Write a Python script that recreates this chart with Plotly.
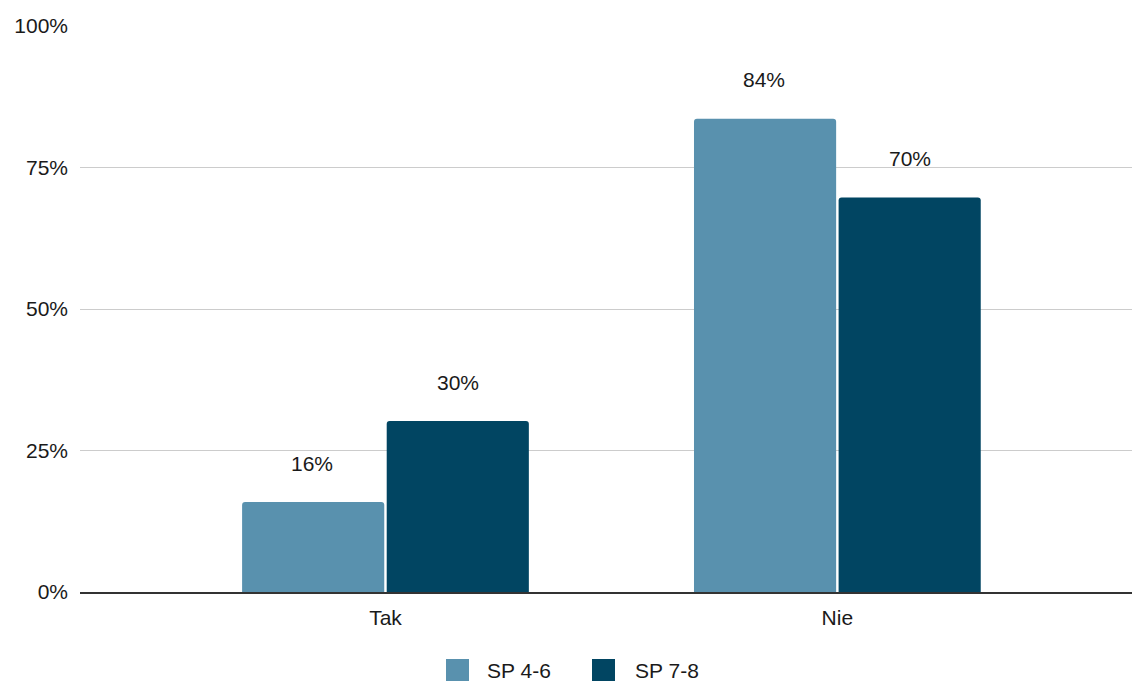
import plotly.graph_objects as go

categories = ["Tak", "Nie"]
sp46 = [0.159, 0.836]
sp78 = [0.302, 0.697]
series_names = ["SP 4-6", "SP 7-8"]
colors = ["#5991AE", "#014562"]
y_ticks = [0, 0.25, 0.5, 0.75, 1.0]
y_tick_labels = ["0%", "25%", "50%", "75%", "100%"]

font_family = "Liberation Sans, Arial, sans-serif"
text_color = "#1a1a1a"
W, H = 1132, 681

fig = go.Figure()
for name, vals, col in zip(series_names, [sp46, sp78], colors):
    fig.add_trace(go.Bar(
        x=categories, y=vals, name=name, showlegend=False,
        marker=dict(color=col, line=dict(width=0), cornerradius=3),
    ))

annotations = []
for vals, shift in [(sp46, -73), (sp78, 73)]:
    for c, v in zip(categories, vals):
        annotations.append(dict(
            x=c, y=v, xref="x", yref="y", text=f"{round(v*100)}%",
            showarrow=False, xshift=shift, yshift=39, yanchor="middle",
            font=dict(family=font_family, size=21, color=text_color),
        ))

# manual legend (pixel positions converted to paper coords)
shapes = []
legend_items = [(446, 485), (592, 633)]
for (sq_x, tx_x), name, col in zip(legend_items, series_names, colors):
    shapes.append(dict(
        type="rect", xref="paper", yref="paper",
        x0=(sq_x - 80) / (W - 80), x1=(sq_x + 23 - 80) / (W - 80),
        y0=-(659 - 592 + 23) / 566, y1=-(659 - 592) / 566,
        fillcolor=col, line=dict(width=0), layer="above",
    ))
    annotations.append(dict(
        x=(tx_x - 80) / (W - 80), y=-(670 - 592) / 566, xref="paper", yref="paper",
        text=name, showarrow=False, xanchor="left", yanchor="middle",
        font=dict(family=font_family, size=21, color=text_color),
    ))

fig.update_layout(
    width=W, height=H,
    margin=dict(l=80, r=0, t=26, b=89),
    paper_bgcolor="white", plot_bgcolor="white",
    barmode="group", bargap=0.36, bargroupgap=0.017,
    font=dict(family=font_family, size=21, color=text_color),
    showlegend=False,
    annotations=annotations,
    shapes=shapes,
    xaxis=dict(type="category", range=[-0.676, 1.652], showgrid=False,
               showline=True, linecolor="#333333", linewidth=1.5,
               ticks="", ticklabelstandoff=6,
               tickfont=dict(size=21, color=text_color)),
    yaxis=dict(range=[0, 1], tickvals=y_ticks, ticktext=y_tick_labels,
               showgrid=True, gridcolor="#cccccc", gridwidth=1,
               zeroline=False, ticks="", ticklen=0, ticklabelstandoff=11,
               tickfont=dict(size=21, color=text_color)),
)

fig.write_html("out.html", config={"displayModeBar": False},
               post_script="document.body.style.margin='0';document.body.style.overflow='hidden';")
